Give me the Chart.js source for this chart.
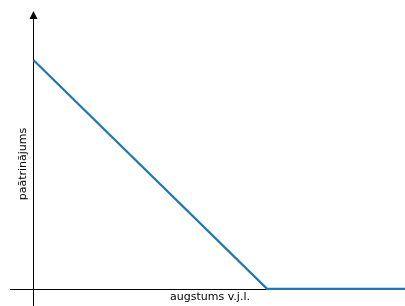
<!DOCTYPE html>
<html>
<head>
<meta charset="utf-8">
<script src="https://cdn.jsdelivr.net/npm/chart.js@4/dist/chart.umd.min.js"></script>
<style>
  html, body { margin: 0; padding: 0; background: #fff; }
  #wrap { width: 405px; height: 306px; position: relative; }
</style>
</head>
<body>
<div id="wrap"><canvas id="c"></canvas></div>
<script>
// paātrinājuma atkarība no augstuma (shēma bez skalas)
const xValues = [0, 1, 1.6];
const yValues = [1, 0, 0];
const xTitle = 'augstums v.j.l.';
const yTitle = 'paātrinājums';

// asis ar bultu uz augšu, nosaukumi
const axesPlugin = {
  id: 'axes',
  beforeDatasetsDraw(chart) {
    const { ctx, chartArea, scales } = chart;
    const x0 = scales.x.getPixelForValue(0);
    const y0 = scales.y.getPixelForValue(0);
    ctx.save();
    ctx.strokeStyle = '#000';
    ctx.lineWidth = 1;
    ctx.beginPath();
    ctx.moveTo(chartArea.left, Math.round(y0) + 0.5);
    ctx.lineTo(chartArea.right, Math.round(y0) + 0.5);
    ctx.moveTo(Math.round(x0) + 0.5, chartArea.bottom);
    ctx.lineTo(Math.round(x0) + 0.5, chartArea.top + 6);
    ctx.stroke();
    // bulta
    ctx.fillStyle = '#000';
    ctx.beginPath();
    ctx.moveTo(Math.round(x0) + 0.5, chartArea.top - 1);
    ctx.lineTo(Math.round(x0) + 4.5, chartArea.top + 7);
    ctx.lineTo(Math.round(x0) - 3.5, chartArea.top + 7);
    ctx.closePath();
    ctx.fill();
    ctx.restore();
  },
  afterDraw(chart) {
    const { ctx } = chart;
    ctx.save();
    ctx.fillStyle = '#000';
    ctx.font = '11px "DejaVu Sans"';
    ctx.textAlign = 'center';
    ctx.textBaseline = 'middle';
    ctx.fillText(xTitle, 210, 297);
    ctx.translate(23, 164);
    ctx.rotate(-Math.PI / 2);
    ctx.fillText(yTitle, 0, 0);
    ctx.restore();
  }
};

new Chart(document.getElementById('c'), {
  type: 'line',
  data: {
    datasets: [{
      data: xValues.map((x, i) => ({ x: x, y: yValues[i] })),
      borderColor: '#1f77b4',
      borderWidth: 2.2,
      pointRadius: 0,
      tension: 0,
      fill: false
    }]
  },
  options: {
    responsive: true,
    maintainAspectRatio: false,
    animation: false,
    layout: { padding: { left: 10, right: 0, top: 12, bottom: 0 } },
    scales: {
      x: { type: 'linear', min: -0.1, max: 1.59, display: false },
      y: { type: 'linear', min: -0.075, max: 1.21, display: false }
    },
    plugins: {
      legend: { display: false },
      tooltip: { enabled: false }
    }
  },
  plugins: [axesPlugin]
});
</script>
</body>
</html>
